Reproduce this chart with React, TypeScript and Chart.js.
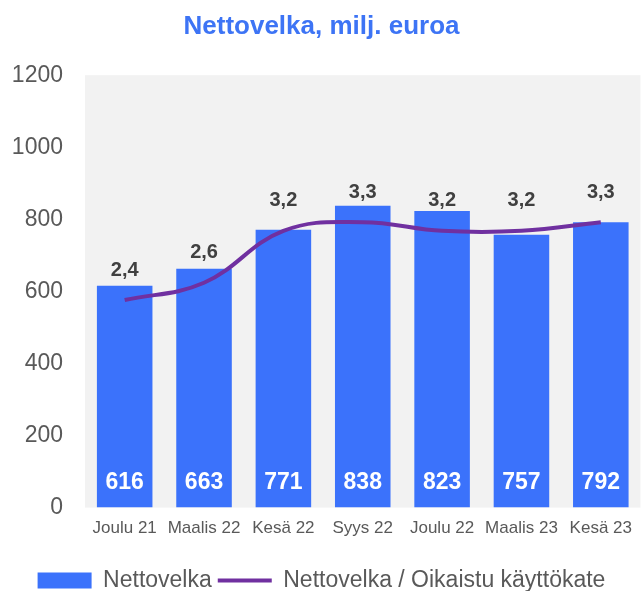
import React, { useEffect, useRef } from "react";
import { Chart, registerables } from "chart.js";

Chart.register(...registerables);

const categories = ["Joulu 21", "Maalis 22", "Kesä 22", "Syys 22", "Joulu 22", "Maalis 23", "Kesä 23"];
const nettovelka = [616, 663, 771, 838, 823, 757, 792];
const ratio = [2.4, 2.6, 3.2, 3.3, 3.2, 3.2, 3.3];
const yTicks = [0, 200, 400, 600, 800, 1000, 1200];

const BAR_COLOR = "#3b72fb";
const LINE_COLOR = "#7030a0";
const FONT = "'Liberation Sans', Arial, sans-serif";

const bgPlugin = {
  id: "plotBg",
  beforeDraw(chart: any) {
    const { ctx, chartArea } = chart;
    if (!chartArea) return;
    ctx.save();
    ctx.fillStyle = "#f2f2f2";
    ctx.fillRect(chartArea.left, chartArea.top, chartArea.right - chartArea.left, chartArea.bottom - chartArea.top);
    ctx.restore();
  },
};

const labelPlugin = {
  id: "valueLabels",
  afterDatasetsDraw(chart: any) {
    const { ctx, chartArea } = chart;
    ctx.save();
    ctx.textAlign = "center";
    ctx.textBaseline = "middle";
    const barMeta = chart.getDatasetMeta(0);
    ctx.font = `bold 23px ${FONT}`;
    ctx.fillStyle = "#ffffff";
    barMeta.data.forEach((el: any, i: number) => {
      ctx.fillText(String(nettovelka[i]), el.x, chartArea.bottom - 25);
    });
    const lineMeta = chart.getDatasetMeta(1);
    ctx.font = `bold 20px ${FONT}`;
    ctx.fillStyle = "#404040";
    lineMeta.data.forEach((el: any, i: number) => {
      ctx.fillText(ratio[i].toFixed(1).replace(".", ","), el.x, el.y - 30);
    });
    ctx.restore();
  },
};

export default function App() {
  const ref = useRef<HTMLCanvasElement | null>(null);
  useEffect(() => {
    if (!ref.current) return;
    const chart = new Chart(ref.current, {
      type: "bar",
      data: {
        labels: categories,
        datasets: [
          {
            type: "bar",
            label: "Nettovelka",
            data: nettovelka,
            backgroundColor: BAR_COLOR,
            borderWidth: 0,
            barPercentage: 0.7,
            categoryPercentage: 1,
            yAxisID: "y",
            order: 2,
          },
          {
            type: "line",
            label: "Nettovelka / Oikaistu käyttökate",
            data: ratio,
            borderColor: LINE_COLOR,
            backgroundColor: LINE_COLOR,
            borderWidth: 4,
            pointRadius: 0,
            tension: 0.4,
            yAxisID: "y1",
            order: 1,
          } as any,
        ],
      },
      options: {
        animation: false,
        responsive: true,
        maintainAspectRatio: false,
        layout: { padding: { left: 0, right: 0, top: 0, bottom: -11 } },
        plugins: {
          title: {
            display: true,
            text: "Nettovelka, milj. euroa",
            color: "#3d74f5",
            font: { family: FONT, size: 26, weight: "bold" },
            padding: { top: 11, bottom: 33 },
          },
          legend: {
            position: "bottom",
            labels: {
              font: { family: FONT, size: 23 },
              color: "#595959",
              usePointStyle: true,
              pointStyleWidth: 54,
              boxHeight: 16,
              padding: 6,
              sort: (a: any, b: any) => a.datasetIndex - b.datasetIndex,
              generateLabels(chart: any) {
                const items = Chart.defaults.plugins.legend.labels.generateLabels(chart);
                items.forEach((it: any) => {
                  if (it.datasetIndex === 0) {
                    it.pointStyle = "rect";
                    it.lineWidth = 0;
                    it.fillStyle = BAR_COLOR;
                    it.strokeStyle = BAR_COLOR;
                  } else {
                    it.pointStyle = "line";
                    it.lineWidth = 4;
                    it.strokeStyle = LINE_COLOR;
                  }
                });
                return items;
              },
            },
          },
          tooltip: { enabled: false },
        },
        scales: {
          x: {
            grid: { display: false, drawTicks: false },
            border: { display: false },
            ticks: { font: { family: FONT, size: 17 }, color: "#595959", padding: 11, maxRotation: 0, autoSkip: false },
            afterFit(scale: any) {
              scale.height += 13;
            },
          },
          y: {
            min: 0,
            max: 1200,
            afterBuildTicks(scale: any) {
              scale.ticks = yTicks.map((v) => ({ value: v }));
            },
            afterFit(scale: any) {
              scale.width = 85;
            },
            grid: { display: false, drawTicks: false },
            border: { display: false },
            ticks: {
              font: { family: FONT, size: 23 },
              color: "#595959",
              padding: 22,
              callback: (v: any) => String(v),
            },
          },
          y1: {
            display: false,
            min: 0,
            max: 5,
          },
        },
      },
      plugins: [bgPlugin, labelPlugin],
    });
    return () => chart.destroy();
  }, []);
  return (
    <div style={{ position: "fixed", left: 0, top: 0, width: 643, height: 591 }}>
      <canvas ref={ref} />
    </div>
  );
}
